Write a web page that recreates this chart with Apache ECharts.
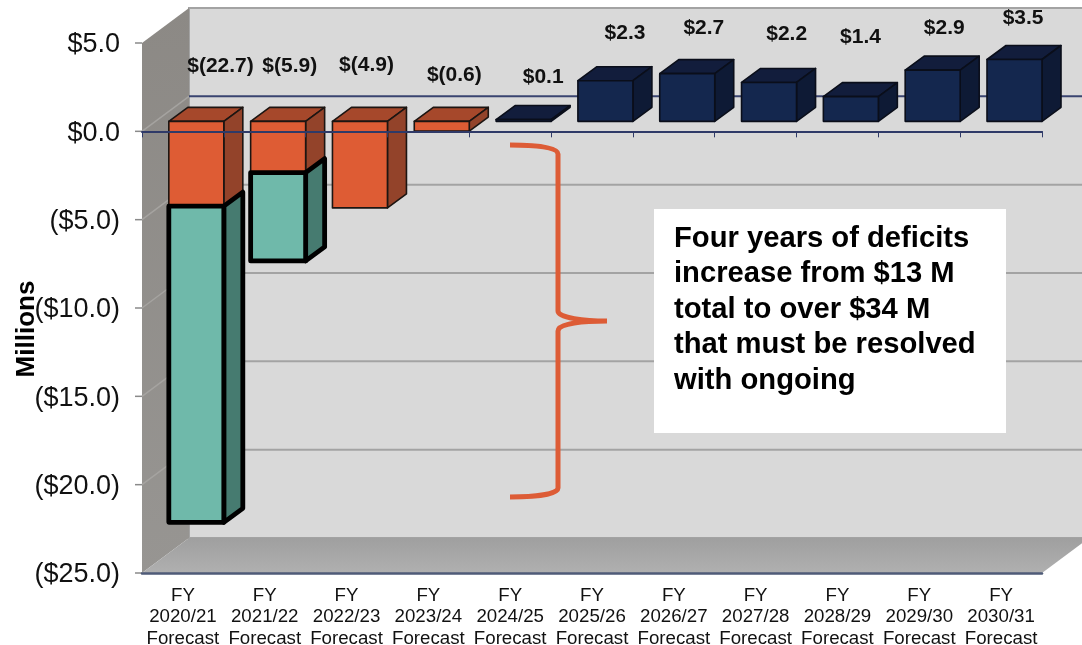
<!DOCTYPE html>
<html><head><meta charset="utf-8">
<style>html,body{margin:0;padding:0;background:#fff;overflow:hidden}#c{width:1082px;height:645px}</style>
<script src="https://cdn.jsdelivr.net/npm/echarts@6/dist/echarts.min.js"></script>
</head><body><div id="c"></div>
<script>
const categories = ['2020/21','2021/22','2022/23','2023/24','2024/25','2025/26','2026/27','2027/28','2028/29','2029/30','2030/31'];
const deficitBase = [-4.8,-2.9,-4.9,-0.55,0,0,0,0,0,0,0];
const deficitAdded = [-17.9,-5.0,0,0,0,0,0,0,0,0,0];
const surplus = [0,0,0,0,0.1,2.3,2.7,2.2,1.4,2.9,3.5];
const valueLabels = ['$(22.7)','$(5.9)','$(4.9)','$(0.6)','$0.1','$2.3','$2.7','$2.2','$1.4','$2.9','$3.5'];
const yTicks = [5,0,-5,-10,-15,-20,-25];
const yTickLabels = {'5':'$5.0','0':'$0.0','-5':'($5.0)','-10':'($10.0)','-15':'($15.0)','-20':'($20.0)','-25':'($25.0)'};
const noteLines = ['Four years of deficits','increase from $13 M','total to over $34 M','that must be resolved','with ongoing'];

const WALL = {dx:47, dy:-35};
const BAR = {dx:19, dy:-14, lift:-10, width:55};
const labelPlacement = [[37.6,3.7],[25,3.7],[20,3.75],[26,3.15],[33,3.05],[33,5.55],[30,5.85],[31,5.5],[23,5.35],[25,5.85],[22,6.4]];

const orange = {front:'#de5c34', side:'#93432a', top:'#a6482b', stroke:'#1c1512', lw:1.6, hasTop:true};
const teal = {front:'#6fb9aa', side:'#467b70', stroke:'#000000', lw:4.8, hasTop:false};
const navy = {front:'#14274e', side:'#0e1a35', top:'#121d3c', stroke:'#0a0e1a', lw:1.6, hasTop:true};

const LG = echarts.graphic.LinearGradient;

function chrome(params, api){
  const band = api.size([1,0])[0];
  const left = api.coord([0,0])[0]-band/2, right = left+band*categories.length;
  const Y = v => api.coord([0,v])[1];
  const top = Y(5), bot = Y(-25), dx = WALL.dx, dy = WALL.dy;
  const kids = [
    {type:'rect',shape:{x:left+dx,y:top+dy,width:right-left,height:bot-top},style:{fill:'#d9d9d9',stroke:'#a3a3a3',lineWidth:2}},
    {type:'polygon',shape:{points:[[left,top],[left+dx,top+dy],[left+dx,bot+dy],[left,bot]]},
      style:{fill:new LG(0,0,1,1,[{offset:0,color:'#8c8985'},{offset:1,color:'#979592'}])}},
    {type:'polygon',shape:{points:[[left,bot],[left+dx,bot+dy],[right+dx,bot+dy],[right,bot]]},
      style:{fill:new LG(0,0,0,1,[{offset:0,color:'#9f9f9f'},{offset:1,color:'#b0b0b0'}])}}
  ];
  yTicks.forEach(v=>{
    const y = Y(v);
    kids.push({type:'line',shape:{x1:left-7,y1:y,x2:left,y2:y},style:{stroke:'#8a8a8a',lineWidth:1.5}});
    if(v===5||v===-25) return;
    kids.push({type:'line',shape:{x1:left,y1:y,x2:left+dx,y2:y+dy},style:{stroke:'#a5a3a0',lineWidth:1.5}});
    kids.push({type:'line',shape:{x1:left+dx,y1:y+dy,x2:right+dx,y2:y+dy},
      style:{stroke:v===0?'#3a4470':'#a3a3a3',lineWidth:2}});
  });
  return {type:'group',children:kids};
}

function box3d(c){
  return function(params, api){
    const i = api.value(0), from = api.value(1), to = api.value(2);
    if(from===to) return null;
    const band = api.size([1,0])[0];
    const xr = api.coord([i,0])[0]+band/2, xl = xr-BAR.width;
    const a = api.coord([i,from])[1]+BAR.lift, b = api.coord([i,to])[1]+BAR.lift;
    const y0 = Math.min(a,b), y1 = Math.max(a,b), dx = BAR.dx, dy = BAR.dy;
    const st = f => ({fill:f,stroke:c.stroke,lineWidth:c.lw,lineJoin:'round'});
    const faces = [];
    if(c.hasTop) faces.push({type:'polygon',shape:{points:[[xl,y0],[xl+dx,y0+dy],[xr+dx,y0+dy],[xr,y0]]},style:st(c.top)});
    faces.push({type:'polygon',shape:{points:[[xr,y0],[xr+dx,y0+dy],[xr+dx,y1+dy],[xr,y1]]},style:st(c.side)});
    faces.push({type:'polygon',shape:{points:[[xl,y0],[xr,y0],[xr,y1],[xl,y1]]},style:st(c.front)});
    return {type:'group',children:faces};
  };
}

function labelItem(params, api){
  const i = api.value(0), p = labelPlacement[i];
  const pt = api.coord([i,p[1]]);
  return {type:'text',style:{text:valueLabels[i],x:pt[0]+p[0],y:pt[1],align:'center',verticalAlign:'middle',
    font:'bold 21px "Liberation Sans", Arial, sans-serif',fill:'#111'}};
}

function brace(){
  return {type:'path',
    shape:{pathData:'M510 145 C535 145 558 147 558 154 L558 311 C558 318 585 321 607 321 C585 321 558 323 558 331 L558 488 C558 494 535 497 510 497'},
    style:{fill:'none',stroke:'#dd5c36',lineWidth:5}};
}

const xLabels = categories.map(c=>'FY\n'+c+'\nForecast');
const rows = {
  base: deficitBase.map((v,i)=>[i,0,v]),
  added: deficitAdded.map((v,i)=>[i,deficitBase[i],deficitBase[i]+v]),
  up: surplus.map((v,i)=>[i,0,v])
};

const chart = echarts.init(document.getElementById('c'),null,{renderer:'canvas'});
chart.setOption({
  animation:false,
  backgroundColor:'#ffffff',
  grid:{left:142,right:40,top:43,bottom:72,containLabel:false,outerBoundsMode:'none'},
  xAxis:[
    {type:'category',data:xLabels,position:'bottom',z:5,
     axisLine:{onZero:false,lineStyle:{color:'#4f5b78',width:2.5}},axisTick:{show:false},
     axisLabel:{interval:0,margin:12,fontSize:18.7,lineHeight:21.5,color:'#111',fontFamily:'"Liberation Sans", Arial, sans-serif',hideOverlap:false}},
    {type:'category',data:xLabels,position:'bottom',z:10,
     axisLine:{onZero:true,lineStyle:{color:'#2f3a68',width:2}},
     axisTick:{show:true,length:6,lineStyle:{color:'#2f3a68',width:1}},
     axisLabel:{show:false}}
  ],
  yAxis:{type:'value',min:-25,max:5,interval:5,
    axisLine:{show:false},
    axisTick:{show:false},
    splitLine:{show:false},
    axisLabel:{margin:22,color:'#111',fontSize:27,fontFamily:'"Liberation Sans", Arial, sans-serif',
      formatter:v=>'{t|'+yTickLabels[String(v)]+'}',
      rich:{t:{fontSize:27,color:'#111',fontFamily:'"Liberation Sans", Arial, sans-serif',padding:[4,0,0,0]}}}},
  series:[
    {type:'custom',z:-1,silent:true,renderItem:chrome,data:[[0,0]],encode:{x:0,y:1},clip:false},
    {type:'custom',name:'Base deficit',z:2,renderItem:box3d(orange),data:rows.base,encode:{x:0,y:[1,2]},clip:false},
    {type:'custom',name:'Added deficit',z:3,renderItem:box3d(teal),data:rows.added,encode:{x:0,y:[1,2]},clip:false},
    {type:'custom',name:'Surplus',z:2,renderItem:box3d(navy),data:rows.up,encode:{x:0,y:[1,2]},clip:false},
    {type:'custom',name:'Labels',z:20,renderItem:labelItem,data:categories.map((c,i)=>[i,0]),encode:{x:0,y:1},clip:false},
    {type:'custom',name:'Brace',z:20,silent:true,renderItem:brace,data:[[0,0]],encode:{x:0,y:1},clip:false}
  ],
  graphic:[
    {type:'text',z:50,x:27,y:329,rotation:Math.PI/2,originX:0,originY:0,
     style:{text:'Millions',font:'bold 26px "Liberation Sans", Arial, sans-serif',fill:'#000',align:'center',verticalAlign:'middle'}},
    {type:'rect',z:50,shape:{x:654,y:209,width:352,height:224},style:{fill:'#fff'}},
    {type:'text',z:51,x:674,y:221,style:{text:noteLines.join('\n'),font:'bold 29.2px "Liberation Sans", Arial, sans-serif',lineHeight:35.5,fill:'#000'}}
  ]
});
</script></body></html>
